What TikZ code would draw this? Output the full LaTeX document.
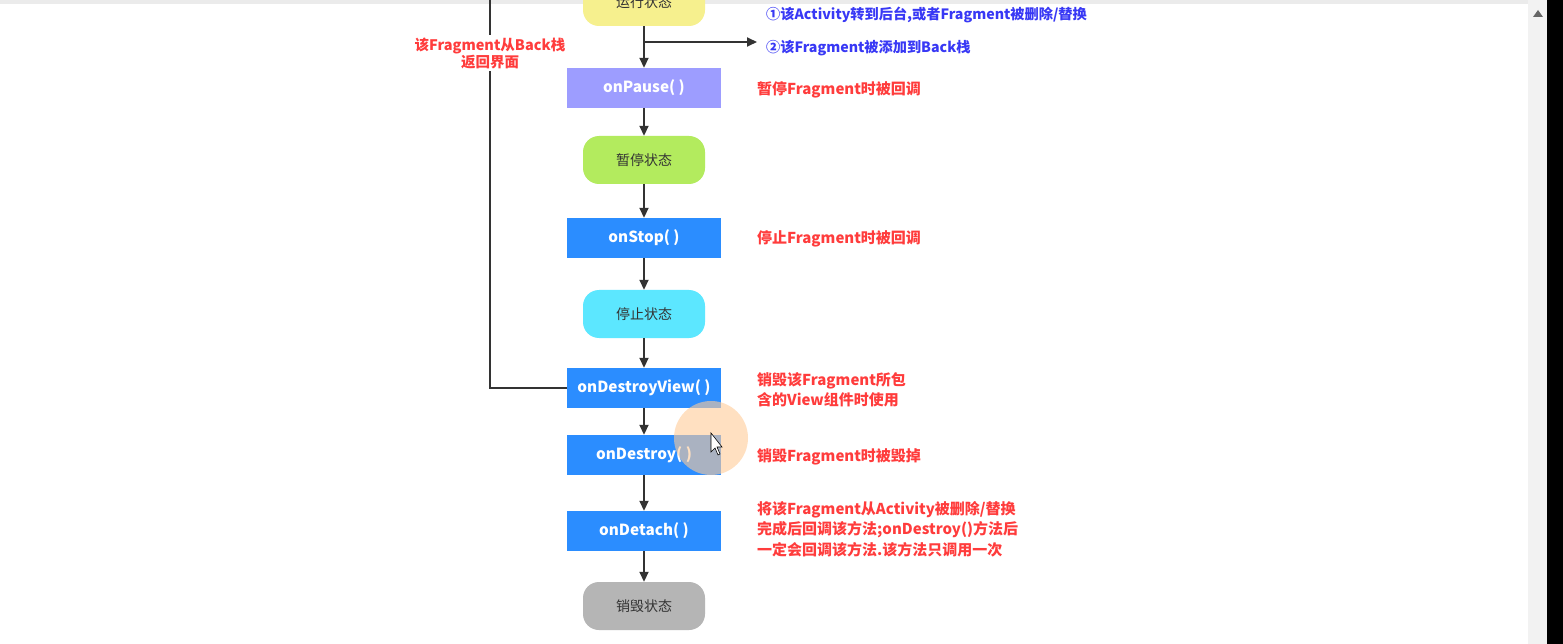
\documentclass[tikz,border=0pt]{standalone}
\usepackage{fontspec}
\setmainfont{Noto Sans CJK SC}
\usetikzlibrary{arrows.meta}
\definecolor{cyellow}{HTML}{F6F08E}
\definecolor{cpause}{HTML}{9D9DFF}
\definecolor{cgreen}{HTML}{B3EB5E}
\definecolor{cblue}{HTML}{2B8DFF}
\definecolor{ccyan}{HTML}{5CE7FF}
\definecolor{cgray}{HTML}{B5B5B5}
\definecolor{cred}{HTML}{FF3C3C}
\definecolor{cbtxt}{HTML}{3838F5}
\definecolor{cline}{HTML}{333333}
\tikzset{
  method/.style={rectangle, fill=#1, minimum width=154pt, minimum height=40pt, inner sep=0pt,
     text=white, font=\bfseries\fontsize{15.3}{17}\selectfont},
  state/.style={rectangle, rounded corners=16pt, fill=#1, minimum width=122pt, minimum height=48pt,
     inner sep=0pt, text=cline, font=\fontsize{14}{16}\selectfont},
  redtxt/.style={anchor=west, text=cred, font=\bfseries\fontsize{15}{20.5}\selectfont, align=left, inner sep=0pt},
  bluetxt/.style={anchor=west, text=cbtxt, font=\bfseries\fontsize{14.2}{16}\selectfont, inner sep=0pt},
  flow/.style={draw=cline, line width=1.8pt, -{Triangle[length=10pt,width=9pt]}},
  plain/.style={draw=cline, line width=1.8pt}
}
\begin{document}
\begin{tikzpicture}[x=1pt,y=-1pt]
\useasboundingbox (0,0) rectangle (1563,644);
\fill[white] (0,0) rectangle (1563,644);
% browser chrome
\fill[black!8] (0,0) rectangle (1528,4);
\fill[black!5] (1528,0) rectangle (1547,644);
\fill[black!60] (1533,17) -- (1543,17) -- (1538,10) -- cycle;
\fill[black] (1547,0) rectangle (1563,644);

% nodes
\node[state=cyellow] (run) at (644,2) {运行状态};
\node[method=cpause] (pause) at (644,88) {onPause( )};
\node[state=cgreen] (paused) at (644,160) {暂停状态};
\node[method=cblue] (stop) at (644,238) {onStop( )};
\node[state=ccyan] (stopped) at (644,314) {停止状态};
\node[method=cblue] (dview) at (644,388) {onDestroyView( )};
\node[method=cblue] (destroy) at (644,455) {onDestroy( )};
\node[method=cblue] (detach) at (644,531) {onDetach( )};
\node[state=cgray] (dead) at (644,606) {销毁状态};

% arrows
\draw[flow] (run) -- (pause);
\coordinate (br) at (644,42);
\coordinate (brend) at (757,42);
\draw[flow] (br) -- (brend);
\draw[flow] (pause) -- (paused);
\draw[flow] (paused) -- (stop);
\draw[flow] (stop) -- (stopped);
\draw[flow] (stopped) -- (dview);
\draw[flow] (dview) -- (destroy);
\draw[flow] (destroy) -- (detach);
\draw[flow] (detach) -- (dead);

% back loop
\coordinate (top) at (490,-2);
\draw[plain] (dview.west) -| (top);
\node[text=cred, font=\bfseries\fontsize{14.5}{17}\selectfont, align=center, fill=white, inner sep=2pt] (backlbl) at (490,53) {该Fragment从Back栈\\返回界面};

% blue notes
\node[bluetxt] (n1) at (766,15) {①该Activity转到后台,或者Fragment被删除/替换};
\node[bluetxt] (n2) at (766,48) {②该Fragment被添加到Back栈};

% red notes
\node[redtxt] (t1) at (757,90) {暂停Fragment时被回调};
\node[redtxt] (t2) at (757,239) {停止Fragment时被回调};
\node[redtxt] (t3) at (757,390) {销毁该Fragment所包\\含的View组件时使用};
\node[redtxt] (t4) at (757,457) {销毁Fragment时被毁掉};
\node[redtxt] (t5) at (757,529) {将该Fragment从Activity被删除/替换\\完成后回调该方法;onDestroy()方法后\\一定会回调该方法.该方法只调用一次};

% cursor highlight
\fill[orange!40, opacity=0.6] (711,438) circle (37);
\filldraw[fill=white, draw=black, line width=0.6pt] (711,433) -- (711,452) -- (715,448) -- (718,455) -- (720,454) -- (717,447) -- (722,447) -- cycle;
\end{tikzpicture}
\end{document}
